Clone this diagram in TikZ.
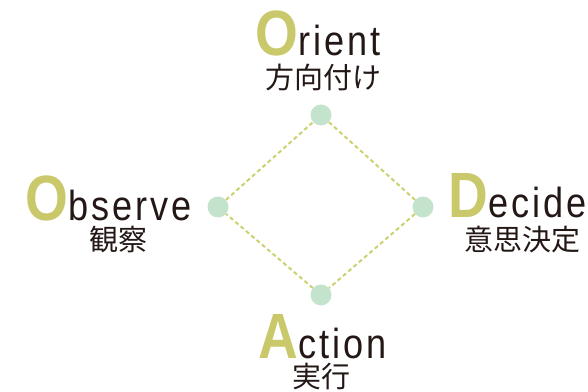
\documentclass[tikz,border=0pt]{standalone}
\usepackage{graphicx}
\usepackage{fontspec}
\setmainfont{Liberation Sans}
\newfontfamily\latfam{Liberation Sans}[LetterSpace=8]
\newfontfamily\cjk{Noto Sans CJK JP}
\definecolor{olivel}{HTML}{C9C96B}
\definecolor{dotc}{HTML}{C4E3CD}
\definecolor{dashc}{HTML}{CCD16E}
\definecolor{ink}{HTML}{231815}
\newcommand{\bigltr}[1]{{\bfseries\fontsize{64}{64}\selectfont\color{olivel}#1}\kern1pt}
\newcommand{\wordtxt}[2]{\scalebox{0.86}[1]{\bigltr{#1}{\latfam\fontsize{42}{42}\selectfont #2}}}
\begin{document}
\begin{tikzpicture}[x=1pt,y=1pt,
  dotn/.style={circle,fill=dotc,minimum size=21pt,inner sep=0pt},
  link/.style={draw=dashc,line width=2pt,dash pattern=on 4pt off 3pt},
  word/.style={anchor=base west,inner sep=0pt,text depth=0pt,text=ink},
  jp/.style={inner sep=0pt,text height=20pt,text depth=3pt,text=ink,font=\cjk\fontsize{29}{29}\selectfont}]
\useasboundingbox (0,0) rectangle (588,391);
\node[dotn] (o) at (321,276) {};
\node[dotn] (b) at (218,184) {};
\node[dotn] (d) at (423,184) {};
\node[dotn] (a) at (321,96) {};
\draw[link] (o) -- (d);
\draw[link] (d) -- (a);
\draw[link] (a) -- (b);
\draw[link] (b) -- (o);
\node[word] (ow) at (255,335) {\wordtxt{O}{rient}};
\node[word] (bw) at (25,171) {\wordtxt{O}{bserve}};
\node[word] (dw) at (448,173) {\wordtxt{D}{ecide}};
\node[word] (aw) at (258,33) {\wordtxt{A}{ction}};
\node[jp] (oj) at (323.5,310.5) {方向付け};
\node[jp] (bj) at (118.5,149) {観察};
\node[jp] (dj) at (522,149) {意思決定};
\node[jp] (aj) at (321,12) {実行};
\end{tikzpicture}
\end{document}
